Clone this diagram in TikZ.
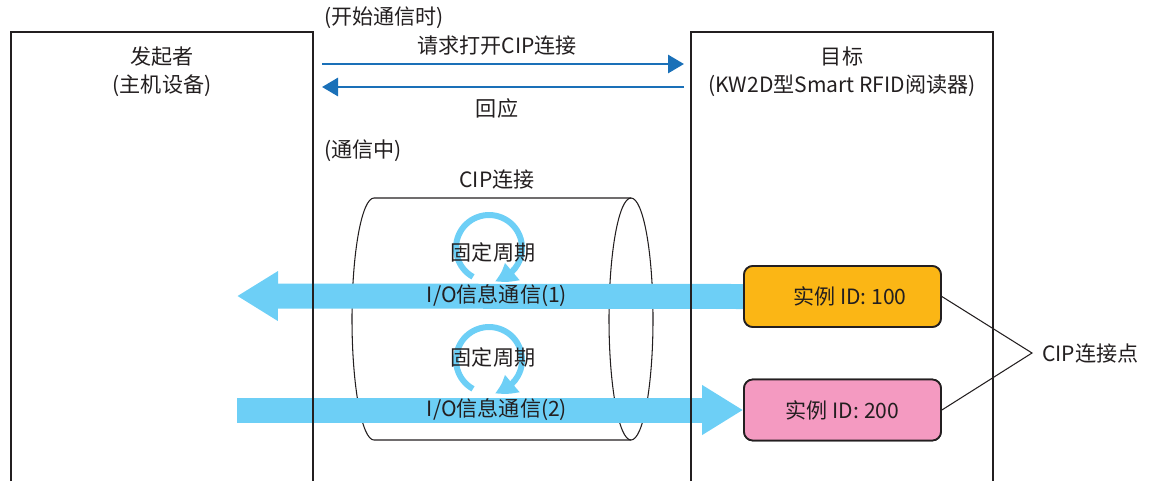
\documentclass[tikz,border=0pt]{standalone}
\usepackage{fontspec}
\setmainfont{Noto Sans CJK SC}
\usetikzlibrary{arrows.meta,bending,positioning}
\definecolor{msgblue}{HTML}{1A70B8}
\definecolor{iocyan}{HTML}{6DCFF6}
\definecolor{idorange}{HTML}{FBB615}
\definecolor{idpink}{HTML}{F49AC1}
\definecolor{inkgray}{HTML}{231F20}

\begin{document}
\begin{tikzpicture}[
    x=0.02cm, y=-0.02cm,
    every node/.style={font=\fontsize{12}{16}\selectfont, text=inkgray, inner sep=1pt},
    device/.style={line width=1.1pt, inkgray},
    msg/.style={-{Triangle[length=0.32cm, width=0.36cm]}, line width=1.7pt, msgblue},
    iobar/.style={-{Triangle[length=0.82cm, width=0.94cm]}, line width=0.5cm, iocyan},
    period/.style={-{Triangle[length=0.4cm, width=0.42cm, bend]}, line width=0.12cm, iocyan},
    inst/.style={draw=inkgray, line width=1pt, rounded corners=5pt, minimum width=3.94cm, minimum height=1.22cm},
    lead/.style={line width=0.6pt, inkgray}
]
\useasboundingbox (0,0) rectangle (1149,481);

% cylinder
\draw[line width=0.6pt, inkgray] (631,198) -- (374,198)
    arc[start angle=270, end angle=90, x radius=22, y radius=121] -- (631,440);
\draw[line width=0.6pt, inkgray] (631,319) ellipse[x radius=22, y radius=121];
\node (cipconn) at (497,180) {CIP连接};

% instances
\node[inst, fill=idorange] (inst1) at (842.5,296.5) {\hspace{0.3cm}实例 ID: 100};
\node[inst, fill=idpink] (inst2) at (842.5,410) {实例 ID: 200};

% I/O flows
\coordinate (io1tip) at (237,296);
\coordinate (io2tail) at (237,410);
\draw[iobar] (inst1.west) -- (io1tip);
\draw[iobar] (io2tail) -- (inst2.west);
\node[inst, fill=idorange] at (inst1) {\hspace{0.3cm}实例 ID: 100};
\node[inst, fill=idpink] at (inst2) {实例 ID: 200};

% devices
\draw[device] (11,481) -- (11,32) -- (313,32) -- (313,481);
\draw[device] (691,481) -- (691,32) -- (993,32) -- (993,481);
\node[align=center] (initiator) at (162,72) {发起者\\(主机设备)};
\node[align=center] (target) at (842,72) {目标\\(KW2D型Smart RFID阅读器)};

% connection setup
\node[anchor=west] (startlbl) at (322,18) {(开始通信时)};
\coordinate (reqL) at (322,64);
\coordinate (reqR) at (684,64);
\coordinate (respR) at (684,87);
\coordinate (respL) at (322,87);
\draw[msg] (reqL) -- (reqR);
\draw[msg] (respR) -- (respL);
\node (req) at (497,46) {请求打开CIP连接};
\node (resp) at (497,108) {回应};

% during communication
\node[anchor=west] (duringlbl) at (322,151) {(通信中)};

% fixed cycles
\draw[period] (489,248) ++(119:33) arc[start angle=119, end angle=440, radius=33];
\draw[period] (489,360) ++(119:33) arc[start angle=119, end angle=440, radius=33];
\node (cyc1) at (493,252) {固定周期};
\node (cyc2) at (493,357) {固定周期};
\node (io1) at (497,296) {I/O信息通信(1)};
\node (io2) at (497,410) {I/O信息通信(2)};

% connection points
\coordinate (cpt) at (1032,353);
\node[anchor=west] (cptlbl) at (1040,353) {CIP连接点};
\draw[lead] (inst1.east) -- (cpt) -- (inst2.east);
\end{tikzpicture}
\end{document}
